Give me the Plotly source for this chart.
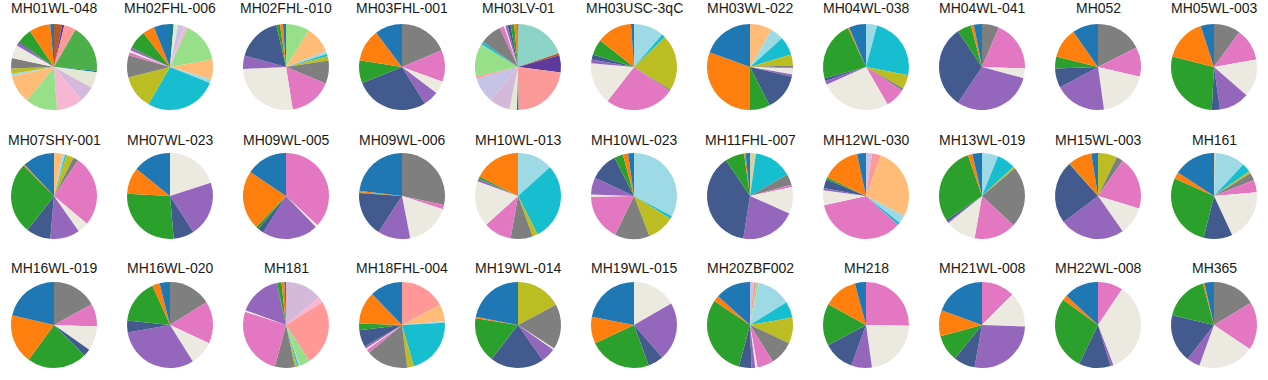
import plotly.graph_objects as go

# ---- categories (clockwise order from 12 o'clock) and their colours ----
categories = ["mint", "rust", "dpurple", "salmonred", "green2", "teal", "pale",
              "thistle", "lavender", "lightpink", "salmon", "lightgreen",
              "lightorange", "khaki", "lightblue", "cyan", "olive", "gray",
              "pink", "beige", "purple", "darkblue", "green", "orange", "blue"]
colors = ["#8dd3c7", "#b65a2c", "#5d3a9b", "#fb9a99", "#4daf4a", "#1b7c8c", "#e3e8d5",
          "#d4b9da", "#c6c3e6", "#f7b6d2", "#ff9896", "#98df8a",
          "#ffbb78", "#d4d3a6", "#9edae5", "#17becf", "#bcbd22", "#7f7f7f",
          "#e377c2", "#eceae0", "#9467bd", "#435a8f", "#2ca02c", "#ff7f0e", "#1f77b4"]

# ---- samples (facet order) ----
samples = ["MH01WL-048", "MH02FHL-006", "MH02FHL-010", "MH03FHL-001", "MH03LV-01",
           "MH03USC-3qC", "MH03WL-022", "MH04WL-038", "MH04WL-041", "MH052", "MH05WL-003",
           "MH07SHY-001", "MH07WL-023", "MH09WL-005", "MH09WL-006", "MH10WL-013",
           "MH10WL-023", "MH11FHL-007", "MH12WL-030", "MH13WL-019", "MH15WL-003", "MH161",
           "MH16WL-019", "MH16WL-020", "MH181", "MH18FHL-004", "MH19WL-014",
           "MH19WL-015", "MH20ZBF002", "MH218", "MH21WL-008", "MH22WL-008", "MH365"]

# ---- relative abundances per sample (category -> share) ----
abund_MH01WL_048 = {"rust": 11, "dpurple": 3, "salmonred": 16, "green2": 65, "teal": 2, "pale": 22,
                    "thistle": 21, "lightpink": 36, "lightgreen": 43, "lightorange": 39, "lightblue": 3,
                    "olive": 7, "gray": 14, "beige": 18, "purple": 4, "darkblue": 2, "green": 20,
                    "orange": 29, "blue": 5}
abund_MH02FHL_006 = {"teal": 5, "pale": 6, "lavender": 8, "lightpink": 5, "lightgreen": 56,
                     "lightorange": 27, "lightblue": 5, "cyan": 98, "olive": 46, "gray": 30, "pink": 4,
                     "beige": 3, "purple": 4, "green": 25, "orange": 16, "blue": 22}
abund_MH02FHL_010 = {"lightgreen": 32, "lightorange": 36, "lightblue": 4, "cyan": 3, "olive": 6,
                     "gray": 31, "pink": 58, "beige": 96, "purple": 18, "darkblue": 61, "green": 5,
                     "orange": 4, "blue": 4}
abund_MH03FHL_001 = {"gray": 67, "pink": 43, "beige": 17, "purple": 21, "darkblue": 100,
                     "green": 31, "orange": 44, "blue": 37}
abund_MH03LV_01 = {"mint": 71, "rust": 3, "dpurple": 23, "salmonred": 82, "teal": 2, "pale": 10,
                   "thistle": 28, "lavender": 35, "salmon": 3, "lightgreen": 44, "cyan": 4, "gray": 29,
                   "pink": 6, "beige": 2, "purple": 3, "darkblue": 4, "green": 5, "orange": 4, "blue": 1}
abund_MH03USC_3qC = {"lightblue": 41, "cyan": 5, "olive": 76, "gray": 2, "pink": 94, "beige": 57,
                     "purple": 5, "darkblue": 7, "green": 21, "orange": 48, "blue": 4}
abund_MH03WL_022 = {"lightorange": 30, "lightblue": 18, "cyan": 25, "olive": 15, "gray": 2, "pink": 2,
                    "beige": 8, "purple": 3, "darkblue": 50, "green": 27, "orange": 110, "blue": 70}
abund_MH04WL_038 = {"lightblue": 15, "cyan": 86, "olive": 19, "gray": 3, "pink": 27, "beige": 96,
                    "purple": 5, "darkblue": 4, "green": 80, "orange": 2, "blue": 23}
abund_MH04WL_041 = {"gray": 23, "pink": 69, "beige": 13, "purple": 109, "darkblue": 112,
                    "green": 19, "orange": 4, "blue": 11}
abund_MH052 = {"gray": 63, "pink": 40, "beige": 69, "purple": 70, "darkblue": 26, "green": 16,
               "orange": 41, "blue": 35}
abund_MH05WL_003 = {"gray": 36, "pink": 44, "beige": 51, "purple": 41, "darkblue": 11, "green": 101,
                    "orange": 58, "blue": 18}
abund_MH07SHY_001 = {"lightorange": 12, "lightblue": 3, "cyan": 2, "olive": 10, "gray": 7, "pink": 96,
                     "beige": 15, "purple": 40, "darkblue": 33, "green": 97, "orange": 2, "blue": 43}
abund_MH07WL_023 = {"beige": 72, "purple": 75, "darkblue": 28, "green": 98, "orange": 36, "blue": 51}
abund_MH09WL_005 = {"pink": 133, "beige": 3, "purple": 76, "darkblue": 8, "green": 4, "orange": 80,
                    "blue": 56}
abund_MH09WL_006 = {"gray": 102, "pink": 6, "beige": 61, "purple": 44, "darkblue": 61, "green": 1,
                    "orange": 2, "blue": 83}
abund_MH10WL_013 = {"lightblue": 48, "cyan": 105, "olive": 7, "gray": 30, "pink": 38, "beige": 62,
                    "purple": 3, "darkblue": 1, "green": 3, "orange": 63}
abund_MH10WL_023 = {"lightblue": 118, "cyan": 4, "olive": 37, "gray": 47, "pink": 63, "beige": 3,
                    "purple": 23, "darkblue": 38, "green": 12, "orange": 7, "blue": 8}
abund_MH11FHL_007 = {"khaki": 8, "cyan": 52, "gray": 15, "pink": 3, "beige": 36, "purple": 75,
                     "darkblue": 137, "green": 26, "orange": 2, "blue": 6}
abund_MH12WL_030 = {"lavender": 8, "salmon": 12, "lightorange": 97, "lightblue": 11, "cyan": 4,
                    "pink": 125, "beige": 20, "purple": 3, "darkblue": 12, "green": 3, "orange": 52,
                    "blue": 12}
abund_MH13WL_019 = {"lightblue": 22, "cyan": 25, "olive": 3, "gray": 83, "pink": 57, "beige": 41,
                    "purple": 2, "darkblue": 3, "green": 105, "orange": 6, "blue": 13}
abund_MH15WL_003 = {"olive": 26, "gray": 9, "pink": 72, "beige": 38, "purple": 88, "darkblue": 85,
                    "green": 1, "orange": 32, "blue": 9}
abund_MH161 = {"khaki": 2, "lightblue": 41, "cyan": 12, "olive": 3, "gray": 10, "pink": 17, "beige": 70,
               "darkblue": 39, "green": 100, "orange": 9, "blue": 57}
abund_MH16WL_019 = {"gray": 61, "pink": 31, "beige": 33, "darkblue": 10, "green": 81, "orange": 67,
                    "blue": 77}
abund_MH16WL_020 = {"gray": 58, "pink": 57, "beige": 33, "purple": 112, "darkblue": 16, "green": 60,
                    "orange": 10, "blue": 14}
abund_MH181 = {"thistle": 50, "lightpink": 8, "salmon": 89, "lightgreen": 14, "lightblue": 2, "cyan": 2,
               "olive": 3, "gray": 27, "pink": 93, "beige": 2, "purple": 57, "darkblue": 1, "green": 6,
               "orange": 4, "blue": 2}
abund_MH18FHL_004 = {"salmon": 62, "lightorange": 23, "lightblue": 2, "cyan": 77, "olive": 9, "gray": 57,
                     "pink": 5, "beige": 2, "purple": 3, "darkblue": 23, "green": 9, "orange": 44,
                     "blue": 44}
abund_MH19WL_014 = {"olive": 62, "gray": 61, "beige": 2, "purple": 20, "darkblue": 73, "green": 61,
                    "orange": 2, "blue": 79}
abund_MH19WL_015 = {"beige": 60, "purple": 79, "darkblue": 21, "green": 85, "orange": 36, "blue": 79}
abund_MH20ZBF002 = {"lavender": 5, "salmon": 4, "lightgreen": 3, "lightblue": 46, "cyan": 22,
                    "olive": 35, "gray": 33, "pink": 22, "beige": 3, "purple": 5, "darkblue": 17,
                    "green": 109, "orange": 8, "blue": 48}
abund_MH218 = {"pink": 91, "beige": 81, "purple": 28, "darkblue": 42, "green": 57, "orange": 46,
               "blue": 15}
abund_MH21WL_008 = {"pink": 45, "beige": 47, "purple": 98, "darkblue": 29, "green": 36, "orange": 35,
                    "blue": 70}
abund_MH22WL_008 = {"pink": 34, "beige": 125, "purple": 4, "darkblue": 43, "green": 100, "orange": 7,
                    "blue": 47}
abund_MH365 = {"gray": 59, "pink": 65, "beige": 76, "purple": 18, "darkblue": 65, "green": 62,
               "orange": 2, "blue": 13}

abundances = [abund_MH01WL_048, abund_MH02FHL_006, abund_MH02FHL_010, abund_MH03FHL_001,
              abund_MH03LV_01, abund_MH03USC_3qC, abund_MH03WL_022, abund_MH04WL_038,
              abund_MH04WL_041, abund_MH052, abund_MH05WL_003,
              abund_MH07SHY_001, abund_MH07WL_023, abund_MH09WL_005, abund_MH09WL_006,
              abund_MH10WL_013, abund_MH10WL_023, abund_MH11FHL_007, abund_MH12WL_030,
              abund_MH13WL_019, abund_MH15WL_003, abund_MH161,
              abund_MH16WL_019, abund_MH16WL_020, abund_MH181, abund_MH18FHL_004,
              abund_MH19WL_014, abund_MH19WL_015, abund_MH20ZBF002, abund_MH218,
              abund_MH21WL_008, abund_MH22WL_008, abund_MH365]

# ---- layout ----
W, H = 1268, 380
NCOL = 11
col_x0, col_step = 54, 116
row_cy = [67, 196, 325]
title_y = [8, 140, 268]
R = 43

color_of = dict(zip(categories, colors))

fig = go.Figure()
annotations = []
for i, (name, ab) in enumerate(zip(samples, abundances)):
    r, c = divmod(i, NCOL)
    cx = col_x0 + col_step * c
    cy = row_cy[r]
    labs = [k for k in categories if ab.get(k, 0) > 0]
    vals = [ab[k] for k in labs]
    fig.add_trace(go.Pie(
        labels=labs, values=vals,
        marker=dict(colors=[color_of[k] for k in labs], line=dict(width=0)),
        sort=False, direction="clockwise", rotation=0,
        textinfo="none", hoverinfo="label+percent",
        showlegend=False,
        domain=dict(x=[(cx - R) / W, (cx + R) / W],
                    y=[1 - (cy + R) / H, 1 - (cy - R) / H]),
    ))
    annotations.append(dict(
        x=cx / W, y=1 - title_y[r] / H, xref="paper", yref="paper",
        text=name, showarrow=False, xanchor="center", yanchor="middle",
        font=dict(family="Liberation Sans, Arial, sans-serif", size=14, color="#1a1a1a"),
    ))

fig.update_layout(
    width=W, height=H,
    margin=dict(l=0, r=0, t=0, b=0),
    paper_bgcolor="white", plot_bgcolor="white",
    annotations=annotations,
    showlegend=False,
)

fig.write_html("out.html",
               config={"displayModeBar": False},
               post_script="document.body.style.margin='0';document.body.style.overflow='hidden';")
